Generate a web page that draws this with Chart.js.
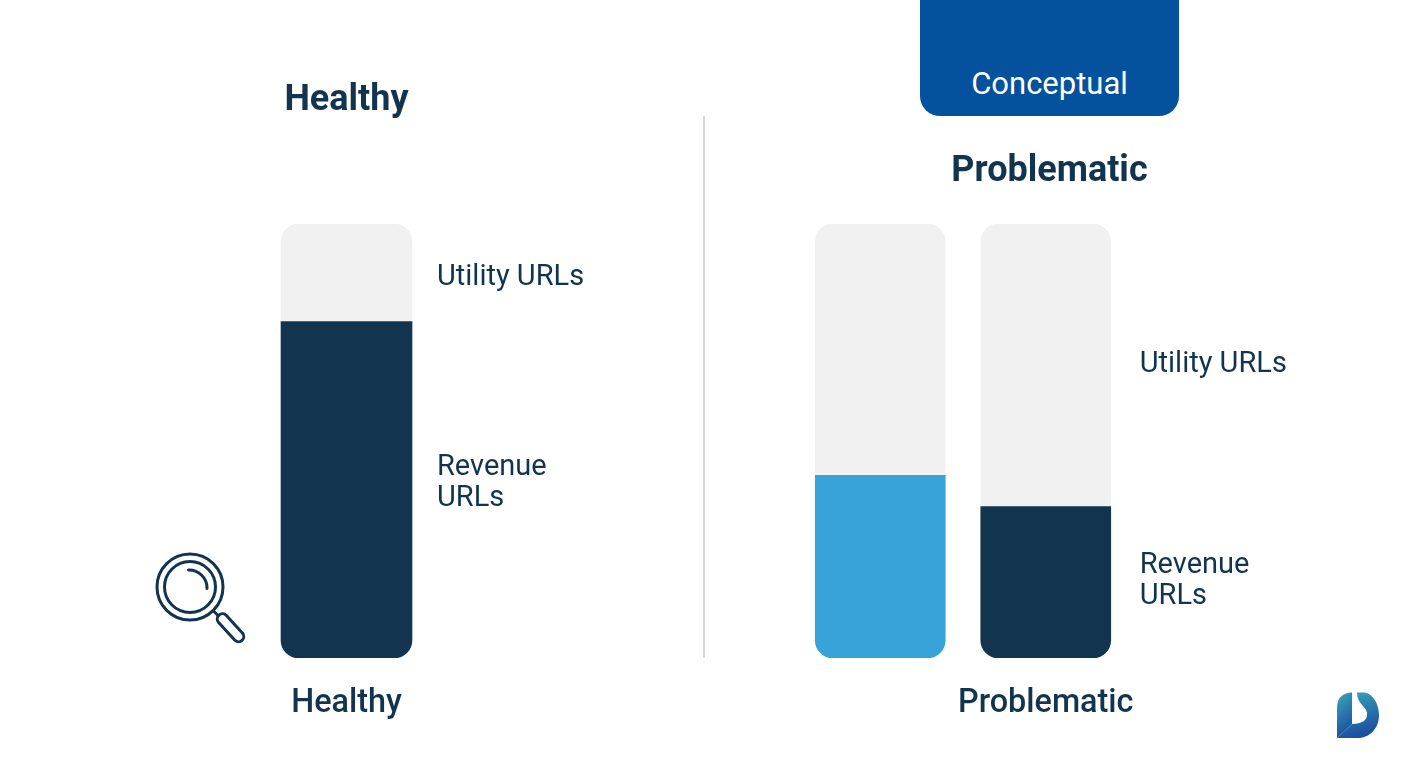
<!DOCTYPE html>
<html>
<head>
<meta charset="utf-8">
<title>Healthy vs Problematic</title>
<script src="https://cdn.jsdelivr.net/npm/chart.js@4"></script>
<style>
    html, body { margin: 0; padding: 0; background: #fff; width: 1408px; height: 768px; overflow: hidden; font-family: Roboto, sans-serif; color: #12344f; }
    .wrap { position: absolute; top: 0; height: 768px; }
    #healthyWrap { left: 0; width: 693px; }
    #problematicWrap { left: 714px; width: 694px; }
    .title { position: absolute; font-size: 36px; font-weight: 700; line-height: 40px; transform: translateX(-50%); white-space: nowrap; }
    #badge { position: absolute; left: 920px; top: -20px; width: 259px; height: 136px; background: #04529e; border-radius: 20px; color: #fff; font-size: 31px; text-align: center; line-height: 40px; box-sizing: border-box; padding-top: 84px; }
    #divider { position: absolute; left: 703px; top: 116px; width: 2px; height: 542px; background: #d4d6d8; }
    svg { position: absolute; left: 0; top: 0; pointer-events: none; }
</style>
</head>
<body>
<div class="wrap" id="healthyWrap"><canvas id="healthyChart"></canvas></div>
<div class="wrap" id="problematicWrap"><canvas id="problematicChart"></canvas></div>
<div class="title" style="left:346.5px;top:78px">Healthy</div>
<div class="title" style="left:1049.5px;top:149px">Problematic</div>
<div id="badge">Conceptual</div>
<div id="divider"></div>
<svg width="1408" height="768" viewBox="0 0 1408 768" fill="none">
    <defs>
        <linearGradient id="logoFill" x1="0" y1="0" x2="0.3" y2="1">
            <stop offset="0" stop-color="#3aa9b9"/>
            <stop offset="1" stop-color="#1c4fa0"/>
        </linearGradient>
    </defs>
    <!-- lupa -->
    <g stroke="#12344f" stroke-width="3">
        <circle cx="190" cy="587" r="33"/>
        <circle cx="190" cy="587" r="25.5"/>
        <path d="M188.5 570 A18 18 0 0 1 207 588.5" stroke-linecap="round"/>
        <path d="M213 610.5 L219 616.5"/>
        <line x1="222.5" y1="619" x2="238.5" y2="636.5" stroke-width="13.5" stroke-linecap="round"/>
        <line x1="222.5" y1="619" x2="238.5" y2="636.5" stroke="#fff" stroke-width="7.5" stroke-linecap="round"/>
    </g>
    <!-- logo -->
    <path d="M1337 738 V708 Q1337 693 1352 692.5 V724 Z" fill="url(#logoFill)"/>
    <path d="M1357 692.5 H1363 C1372 692.5 1379 703 1379 715 C1379 730 1368 738 1358 738 H1337 L1352 724 C1362 724 1368 720 1367 713 C1366 706 1357 704 1357 692.5 Z" fill="url(#logoFill)"/>
</svg>

<script>
const healthyCategories = ['Healthy']
const healthyRevenue = [77.5]
const healthyUtility = [22.5]

const problematicCategories = ['', 'Problematic']
const problematicRevenue = [42.1, 34.9]
const problematicUtility = [57.9, 65.1]

const utilityLabel = ['Utility URLs']
const revenueLabel = ['Revenue', 'URLs']

const darkNavy = '#12344f'
const skyBlue = '#38a3d8'
const lightGrey = '#f1f1f1'

// writes the text next to the last bar, in the middle of each segment
const segmentLabels = {
    id: 'segmentLabels',
    afterDatasetsDraw(chart, args, opts) {
        const ctx = chart.ctx
        const lastBars = chart.data.datasets.map((d, i) => {
            const meta = chart.getDatasetMeta(i)
            return meta.data[meta.data.length - 1]
        })
        ctx.save()
        ctx.font = '400 29px Roboto'
        ctx.fillStyle = darkNavy
        ctx.textBaseline = 'middle'
        ctx.textAlign = 'left'
        lastBars.forEach((bar, i) => {
            const lines = opts.lines[i]
            const midY = (bar.y + bar.base) / 2 + opts.shift[i]
            lines.forEach((line, n) => {
                const y = midY + (n - (lines.length - 1) / 2) * 31
                ctx.fillText(line, bar.x + bar.width / 2 + opts.gap, y)
            })
        })
        ctx.restore()
    }
}

const roundBottom = { topLeft: 0, topRight: 0, bottomLeft: 18, bottomRight: 18 }
const roundTop = { topLeft: 18, topRight: 18, bottomLeft: 0, bottomRight: 0 }

const renderStack = (id, categories, revenue, utility, revenueColors, padding, thickness, gap, shift) => {
    const data = {
        labels: categories,
        datasets: [
            { label: 'Revenue URLs', data: revenue, backgroundColor: revenueColors, borderRadius: roundBottom, borderSkipped: false },
            { label: 'Utility URLs', data: utility, backgroundColor: lightGrey, borderRadius: roundTop, borderSkipped: false }
        ]
    }

    const options = {
        responsive: true,
        maintainAspectRatio: false,
        animation: false,
        barThickness: thickness,
        layout: { padding },
        plugins: {
            legend: { display: false },
            title: { display: false },
            tooltip: { enabled: false },
            segmentLabels: { lines: [revenueLabel, utilityLabel], gap, shift }
        },
        scales: {
            x: {
                stacked: true,
                grid: { display: false },
                border: { display: false },
                ticks: { color: darkNavy, font: { family: 'Roboto', size: 32.4, weight: '500' }, padding: 18, maxRotation: 0, autoSkip: false },
                afterFit: scale => { scale.height = 110 }
            },
            y: { stacked: true, display: false, min: 0, max: 100 }
        }
    }

    new Chart(id, { type: 'bar', data, options, plugins: [segmentLabels] })
}

const printCharts = () => {
    renderStack('healthyChart', healthyCategories, healthyRevenue, healthyUtility, [darkNavy],
        { top: 224, left: 0, right: 0, bottom: 0 }, 131, 25, [-6.5, 4.5])
    renderStack('problematicChart', problematicCategories, problematicRevenue, problematicUtility, [skyBlue, darkNavy],
        { top: 224, left: 83.5, right: 279.5, bottom: 0 }, 130, 29, [-1, -1])
}

printCharts()
</script>
</body>
</html>
